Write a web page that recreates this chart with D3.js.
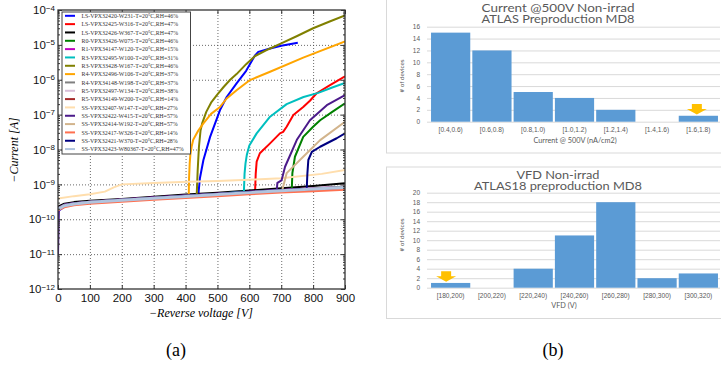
<!DOCTYPE html>
<html lang="en">
<head>
<meta charset="UTF-8">
<title>IV curves and histograms</title>
<style>
  body { margin: 0; background: #fff; }
  svg { display: block; }
  .serif { font-family: "Liberation Serif", "DejaVu Serif", serif; }
  .sans { font-family: Lato, "Open Sans", sans-serif; }
  .grid line { stroke: #444; stroke-dasharray: 1,2; stroke-width: 0.8; }
  .grid .domain { display: none; }
  .ax .domain { display: none; }
  .ax line { stroke: #333; }
  .hgrid line { stroke: #d9d9d9; }
  .hgrid .domain { display: none; }
</style>
</head>
<body>
<script src="https://cdnjs.cloudflare.com/ajax/libs/d3/7.8.5/d3.min.js"></script>
<script>
// ---------- panel (a) data : [reverse voltage V, current A]
var ivW231 = [[0,1.7e-10],[20,2.3e-10],[50,2.7e-10],[100,3.0e-10],[200,3.5e-10],[300,4.0e-10],[400,4.6e-10],[440,4.9e-10],[445,1.5e-9],[456,5e-9],[477,2.3e-8],[508,1.35e-7],[529,3.2e-7],[560,7.9e-7],[590,1.8e-6],[618,5e-6],[628,6.3e-6],[665,7.9e-6],[700,9.4e-6],[752,1.15e-5]];
var ivW316 = [[0,2.0e-10],[20,2.5e-10],[50,2.8e-10],[100,3.1e-10],[200,3.6e-10],[300,4.1e-10],[400,4.7e-10],[500,5.3e-10],[600,6.0e-10],[618,6.1e-10],[620,2e-9],[623,4.5e-9],[633,7.8e-9],[665,1.5e-8],[696,2.9e-8],[706,3.2e-8],[717,4.5e-8],[738,9.8e-8],[769,1.65e-7],[790,2.5e-7],[811,4.1e-7],[853,7e-7],[900,1.26e-6]];
var ivW367 = [[0,2.3e-10],[20,2.8e-10],[50,3.1e-10],[100,3.4e-10],[200,3.8e-10],[300,4.4e-10],[400,5.1e-10],[500,5.8e-10],[600,6.7e-10],[700,7.7e-10],[800,9.0e-10],[900,1.07e-9]];
var ivW075 = [[0,2.0e-10],[20,2.5e-10],[50,2.8e-10],[100,3.1e-10],[200,3.6e-10],[300,4.1e-10],[400,4.7e-10],[500,5.3e-10],[600,6.0e-10],[700,6.8e-10],[733,7.0e-10],[735,2.1e-9],[743,6.2e-9],[769,2.3e-8],[800,4.5e-8],[822,6.9e-8],[860,1.2e-7],[900,2.1e-7]];
var ivW120 = [[0,2.1e-10],[20,2.6e-10],[50,2.9e-10],[100,3.2e-10],[200,3.7e-10],[300,4.2e-10],[400,4.8e-10],[500,5.4e-10],[600,6.1e-10],[700,6.9e-10],[800,7.7e-10],[900,8.5e-10]];
var ivW100 = [[0,2.0e-10],[20,2.5e-10],[50,2.8e-10],[100,3.1e-10],[200,3.6e-10],[300,4.1e-10],[400,4.7e-10],[500,5.3e-10],[583,6.2e-10],[585,2e-9],[588,4e-9],[592,6.9e-9],[600,1.3e-8],[623,2.9e-8],[665,8.7e-8],[717,2e-7],[770,3.2e-7],[816,4.2e-7],[860,6e-7],[900,8.1e-7]];
var ivW167 = [[0,2.0e-10],[20,2.5e-10],[50,2.8e-10],[100,3.1e-10],[200,3.6e-10],[300,4.1e-10],[400,4.7e-10],[435,5.0e-10],[438,2.5e-9],[442,1.2e-8],[447,3.5e-8],[452,5.6e-8],[465,1.2e-7],[480,2.2e-7],[500,3.8e-7],[520,6.3e-7],[540,1e-6],[560,1.45e-6],[590,2.8e-6],[618,4.8e-6],[660,7.5e-6],[700,1.1e-5],[750,1.8e-5],[800,3e-5],[850,4.6e-5],[900,7e-5]];
var ivW106 = [[0,2.0e-10],[20,2.5e-10],[50,2.8e-10],[100,3.1e-10],[200,3.6e-10],[300,4.1e-10],[410,4.7e-10],[411,1.5e-9],[413,4e-9],[415,7e-9],[419,1.2e-8],[424,1.9e-8],[440,3.5e-8],[456,5.6e-8],[480,1.05e-7],[508,1.66e-7],[529,2.9e-7],[560,5e-7],[602,9.8e-7],[665,1.7e-6],[769,4.3e-6],[900,1.26e-5]];
var ivW198 = [[0,2.1e-10],[20,2.6e-10],[50,2.9e-10],[100,3.2e-10],[200,3.6e-10],[300,4.1e-10],[400,4.6e-10],[500,5.2e-10],[600,5.9e-10],[700,6.7e-10],[800,7.6e-10],[900,8.7e-10]];
var ivW134 = [[0,2.0e-10],[20,2.5e-10],[50,2.8e-10],[100,3.1e-10],[200,3.5e-10],[300,4.0e-10],[400,4.5e-10],[500,5.1e-10],[600,5.8e-10],[700,6.5e-10],[800,7.2e-10],[900,8.0e-10]];
var ivW200 = [[0,1.9e-10],[20,2.4e-10],[50,2.7e-10],[100,3.0e-10],[200,3.4e-10],[300,3.9e-10],[400,4.4e-10],[500,4.9e-10],[600,5.6e-10],[700,6.3e-10],[800,7.0e-10],[900,7.6e-10]];
var ivW147 = [[0,3.9e-10],[50,4.6e-10],[100,5.2e-10],[147,6.2e-10],[175,8.2e-10],[200,1e-9],[300,1.1e-9],[409,1.18e-9],[500,1.25e-9],[618,1.37e-9],[700,1.5e-9],[827,2e-9],[900,2.6e-9]];
var ivW415 = [[0,9e-12],[3,2.0e-10],[20,2.6e-10],[50,2.9e-10],[100,3.2e-10],[200,3.7e-10],[300,4.2e-10],[400,4.8e-10],[500,5.4e-10],[600,6.1e-10],[686,6.9e-10],[688,1.1e-9],[701,1.3e-9],[712,3.2e-9],[749,1.9e-8],[790,6.9e-8],[843,1.86e-7],[900,3.6e-7]];
var ivW192 = [[0,2.0e-10],[20,2.5e-10],[50,2.8e-10],[100,3.1e-10],[200,3.6e-10],[300,4.1e-10],[400,4.7e-10],[500,5.3e-10],[600,6.0e-10],[703,6.7e-10],[706,8.5e-10],[717,2.1e-9],[769,6.2e-9],[822,1.86e-8],[900,6.2e-8]];
var ivW326 = [[0,1.8e-10],[20,2.2e-10],[50,2.5e-10],[100,2.8e-10],[200,3.2e-10],[300,3.6e-10],[400,4.1e-10],[500,4.6e-10],[600,5.2e-10],[700,5.8e-10],[800,6.4e-10],[900,7.0e-10]];
var ivW370 = [[0,2.0e-10],[20,2.5e-10],[50,2.8e-10],[100,3.1e-10],[200,3.6e-10],[300,4.1e-10],[400,4.7e-10],[500,5.3e-10],[600,6.0e-10],[700,6.8e-10],[780,7.5e-10],[782,2e-9],[785,5e-9],[796,8.5e-9],[822,1.2e-8],[874,2.1e-8],[900,2.9e-8]];
var ivW80367 = [[0,1.95e-10],[20,2.45e-10],[50,2.75e-10],[100,3.05e-10],[200,3.5e-10],[300,4.0e-10],[400,4.5e-10],[500,5.1e-10],[600,5.8e-10],[700,6.6e-10],[800,7.4e-10],[900,8.2e-10]];

var ivNames = [
  "LS-VPX32420-W231-T=20\u00b0C,RH=46%",
  "LS-VPX32425-W316-T=20\u00b0C,RH=47%",
  "LS-VPX32426-W367-T=20\u00b0C,RH=47%",
  "R0-VPX33426-W075-T=20\u00b0C,RH=46%",
  "R1-VPX34147-W120-T=20\u00b0C,RH=15%",
  "R3-VPX32495-W100-T=20\u00b0C,RH=31%",
  "R3-VPX33428-W167-T=20\u00b0C,RH=46%",
  "R4-VPX32496-W106-T=20\u00b0C,RH=37%",
  "R4-VPX34148-W198-T=20\u00b0C,RH=37%",
  "R5-VPX32497-W134-T=20\u00b0C,RH=38%",
  "R5-VPX34149-W200-T=20\u00b0C,RH=14%",
  "SS-VPX32407-W147-T=20\u00b0C,RH=27%",
  "SS-VPX32422-W415-T=20\u00b0C,RH=57%",
  "SS-VPX32414-W192-T=20\u00b0C,RH=57%",
  "SS-VPX32417-W326-T=20\u00b0C,RH=14%",
  "SS-VPX32421-W370-T=20\u00b0C,RH=28%",
  "SS-VPX32423-W80367-T=20\u00b0C,RH=47%"
];
var ivSeries = [ivW231, ivW316, ivW367, ivW075, ivW120, ivW100, ivW167, ivW106,
                ivW198, ivW134, ivW200, ivW147, ivW415, ivW192, ivW326, ivW370, ivW80367];
var voltTicks = [0, 100, 200, 300, 400, 500, 600, 700, 800, 900];
var decades = [1e-12, 1e-11, 1e-10, 1e-9, 1e-8, 1e-7, 1e-6, 1e-5, 1e-4];

// ---------- panel (b) data
var curBins = ["[0.4,0.6)", "[0.6,0.8)", "[0.8,1.0)", "[1.0,1.2)", "[1.2,1.4)", "[1.4,1.6)", "[1.6,1.8)"];
var curCounts = [15, 12, 5, 4, 2, 0, 1];
var vfdBins = ["[180,200)", "[200,220)", "[220,240)", "[240,260)", "[260,280)", "[280,300)", "[300,320)"];
var vfdCounts = [1, 0, 4, 11, 18, 2, 3];

// styles
var ivColors = ["#0000ff", "#ff0000", "#000000", "#008000", "#bf00bf", "#00bfbf", "#808000", "#ffa500",
                "#808080", "#d8bfd8", "#a52a2a", "#ffdead", "#4b1a8a", "#d2b48c", "#ff7050", "#000080", "#b0c4de"];

var W = 721, H = 371;
var svg = d3.select("body").append("svg").attr("width", W).attr("height", H);

// ================= panel (a) =================
var a = {left: 58, right: 345, top: 10, bottom: 289};
var x = d3.scaleLinear().domain([0, 900]).range([a.left, a.right]);
var y = d3.scaleLog().domain([1e-12, 1e-4]).range([a.bottom, a.top]);

var minor = [];
decades.slice(0, -1).forEach(function (d) {
  for (var m = 2; m < 10; m++) minor.push(d * m);
});

var pa = svg.append("g").attr("class", "serif");

// dotted grid
pa.append("g").attr("class", "grid")
  .attr("transform", "translate(0," + a.bottom + ")")
  .call(d3.axisBottom(x).tickValues(voltTicks.slice(1, -1)).tickSize(-(a.bottom - a.top)).tickFormat(""));
pa.append("g").attr("class", "grid")
  .attr("transform", "translate(" + a.left + ",0)")
  .call(d3.axisLeft(y).tickValues(decades.slice(1, -1)).tickSize(-(a.right - a.left)).tickFormat(""));

// curves
pa.append("clipPath").attr("id", "clipA").append("rect")
  .attr("x", a.left).attr("y", a.top).attr("width", a.right - a.left).attr("height", a.bottom - a.top);

var line = d3.line().x(function (d) { return x(d[0]); }).y(function (d) { return y(d[1]); });
var curves = pa.append("g").attr("clip-path", "url(#clipA)");
ivSeries.forEach(function (s, i) {
  curves.append("path").datum(s)
    .attr("d", line)
    .attr("fill", "none")
    .attr("stroke", ivColors[i])
    .attr("stroke-width", i == 16 ? 3 : 2)
    .attr("stroke-linejoin", "round");
});

// ticks on all four sides, pointing inward
var xb = pa.append("g").attr("class", "ax")
  .attr("transform", "translate(0," + a.bottom + ")")
  .call(d3.axisBottom(x).tickValues(voltTicks).tickSizeInner(-4).tickSizeOuter(0).tickPadding(5));
xb.selectAll("text").attr("font-size", "11.5px").attr("fill", "#111").style("font-family", "inherit");

pa.append("g").attr("class", "ax")
  .attr("transform", "translate(0," + a.top + ")")
  .call(d3.axisTop(x).tickValues(voltTicks).tickSizeInner(-4).tickSizeOuter(0).tickFormat(""));

var yl = pa.append("g").attr("class", "ax")
  .attr("transform", "translate(" + a.left + ",0)")
  .call(d3.axisLeft(y).tickValues(decades).tickSizeInner(-4).tickSizeOuter(0).tickPadding(3).tickFormat(""));
yl.selectAll(".tick text").each(function (d) {
  var t = d3.select(this).attr("font-size", "11.5px").attr("fill", "#111").style("font-family", "inherit");
  t.append("tspan").text("10");
  t.append("tspan").attr("dy", "-0.45em").attr("font-size", "8px")
    .text("\u2212" + Math.round(-Math.log10(d)));
});
pa.append("g").attr("class", "ax")
  .attr("transform", "translate(" + a.left + ",0)")
  .call(d3.axisLeft(y).tickValues(minor).tickSizeInner(-2).tickSizeOuter(0).tickFormat(""));
pa.append("g").attr("class", "ax")
  .attr("transform", "translate(" + a.right + ",0)")
  .call(d3.axisRight(y).tickValues(decades).tickSizeInner(-4).tickSizeOuter(0).tickFormat(""));
pa.append("g").attr("class", "ax")
  .attr("transform", "translate(" + a.right + ",0)")
  .call(d3.axisRight(y).tickValues(minor).tickSizeInner(-2).tickSizeOuter(0).tickFormat(""));

// frame
pa.append("rect")
  .attr("x", a.left).attr("y", a.top)
  .attr("width", a.right - a.left).attr("height", a.bottom - a.top)
  .attr("fill", "none").attr("stroke", "#333").attr("stroke-width", 1.3);

// legend
var lg = pa.append("g").attr("transform", "translate(62,12)");
lg.append("rect").attr("width", 128.5).attr("height", 142)
  .attr("fill", "#fff").attr("stroke", "#444").attr("stroke-width", 1);
ivNames.forEach(function (n, i) {
  var yy = 3.8 + i * 8.33;
  lg.append("line").attr("x1", 3).attr("x2", 13).attr("y1", yy).attr("y2", yy)
    .attr("stroke", ivColors[i]).attr("stroke-width", 2);
  lg.append("text").attr("x", 19.5).attr("y", yy + 2.1)
    .attr("font-size", "5.9px").attr("fill", "#333").text(n);
});

// axis titles
pa.append("text").attr("x", 201).attr("y", 316.5)
  .attr("text-anchor", "middle").attr("font-size", "12px").attr("font-style", "italic")
  .text("\u2212Reverse voltage [V]");
pa.append("text").attr("transform", "translate(18,150) rotate(-90)")
  .attr("text-anchor", "middle").attr("font-size", "12px").attr("font-style", "italic")
  .text("\u2212Current [A]");

pa.append("text").attr("x", 176).attr("y", 356).attr("text-anchor", "middle")
  .attr("font-size", "18px").text("(a)");
svg.append("text").attr("class", "serif").attr("x", 553).attr("y", 356).attr("text-anchor", "middle")
  .attr("font-size", "18px").text("(b)");

// ================= panel (b) =================
function histogram(cfg) {
  var g = svg.append("g").attr("class", "sans");
  g.append("rect").attr("x", 386.5).attr("y", cfg.frameTop + 0.5)
    .attr("width", 400).attr("height", cfg.frameBottom - cfg.frameTop)
    .attr("fill", "#fff").attr("stroke", "#d9d9d9");

  var xs = d3.scaleBand().domain(cfg.bins).range([430, 719]).paddingInner(0.05).paddingOuter(0.025);
  var ys = d3.scaleLinear().domain([0, cfg.max]).range([cfg.y0, cfg.y1]);

  var grid = g.append("g").attr("class", "hgrid")
    .attr("transform", "translate(427,0)")
    .call(d3.axisLeft(ys).tickValues(d3.range(0, cfg.max + 1, 2)).tickSize(-293).tickPadding(7));
  grid.selectAll("text").attr("font-size", "6.5px").attr("fill", "#595959").style("font-family", "inherit");

  g.selectAll(".bar").data(cfg.counts).enter().append("rect")
    .attr("x", function (d, i) { return xs(cfg.bins[i]); })
    .attr("width", xs.bandwidth())
    .attr("y", function (d) { return ys(d); })
    .attr("height", function (d) { return cfg.y0 - ys(d); })
    .attr("fill", "#5b9bd5");

  var xa = g.append("g").attr("class", "ax")
    .attr("transform", "translate(0," + cfg.y0 + ")")
    .call(d3.axisBottom(xs).tickSize(0).tickPadding(5.5));
  xa.selectAll("text").attr("font-size", "6.6px").attr("fill", "#595959").style("font-family", "inherit");

  cfg.title.forEach(function (t, i) {
    g.append("text").attr("x", 558).attr("y", cfg.titleY[i]).attr("text-anchor", "middle")
      .attr("font-size", "10.5px").attr("fill", "#595959")
      .attr("textLength", cfg.titleW[i]).attr("lengthAdjust", "spacingAndGlyphs").text(t);
  });
  g.append("text").attr("x", cfg.xTitleX).attr("y", cfg.xTitleY).attr("text-anchor", "middle")
    .attr("font-size", "7.3px").attr("fill", "#595959").text(cfg.xTitle);
  g.append("text").attr("transform", "translate(404," + cfg.yTitleY + ") rotate(-90)")
    .attr("text-anchor", "middle").attr("font-size", "6.3px").attr("fill", "#595959").text("# of devices");

  // orange marker arrow above the flagged bin
  var i = cfg.bins.indexOf(cfg.arrowBin);
  var cx = xs(cfg.arrowBin) + xs.bandwidth() / 2 + cfg.arrowDx;
  var tip = ys(cfg.counts[i]) - 1.2;
  var p = d3.path();
  p.moveTo(cx - 5, tip - 10.5); p.lineTo(cx + 5, tip - 10.5); p.lineTo(cx + 5, tip - 5.5);
  p.lineTo(cx + 10, tip - 5.5); p.lineTo(cx, tip); p.lineTo(cx - 10, tip - 5.5);
  p.lineTo(cx - 5, tip - 5.5); p.closePath();
  g.append("path").attr("d", p.toString()).attr("fill", "#ffc000");
}

histogram({
  bins: curBins, counts: curCounts, max: 16,
  y0: 121.7, y1: 26.7, frameTop: -1, frameBottom: 152.5,
  title: ["Current @500V Non-irrad", "ATLAS Preproduction MD8"], titleY: [12, 23.3], titleW: [153, 153],
  xTitle: "Current @ 500V (nA/cm2)", xTitleX: 575, xTitleY: 143,
  yTitleY: 76, arrowBin: "[1.6,1.8)", arrowDx: -1.5
});
histogram({
  bins: vfdBins, counts: vfdCounts, max: 20,
  y0: 287.7, y1: 192.7, frameTop: 166.5, frameBottom: 318,
  title: ["VFD Non-irrad", "ATLAS18 preproduction MD8"], titleY: [178.8, 189.8], titleW: [83, 168],
  xTitle: "VFD (V)", xTitleX: 564, xTitleY: 307.6,
  yTitleY: 235, arrowBin: "[180,200)", arrowDx: -4.5
});
</script>
</body>
</html>
